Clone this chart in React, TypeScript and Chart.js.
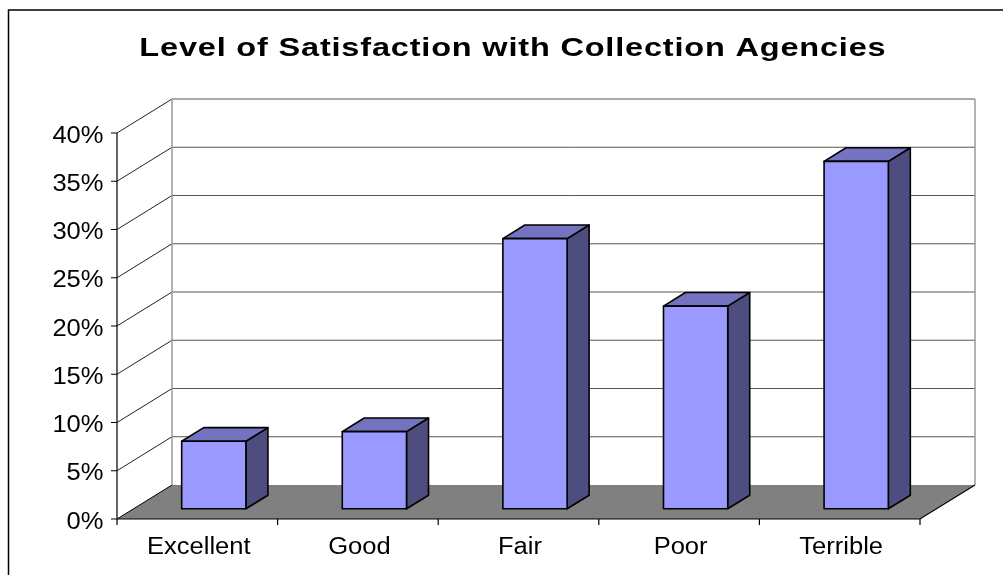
import React, { useEffect, useRef } from 'react';
import { Chart, registerables } from 'chart.js';

Chart.register(...registerables);

const titleText = 'Level of Satisfaction with Collection Agencies';
const categories = ['Excellent', 'Good', 'Fair', 'Poor', 'Terrible'];
const satisfaction = [0.07, 0.08, 0.28, 0.21, 0.36];
const yTickValues = [0, 0.05, 0.1, 0.15, 0.2, 0.25, 0.3, 0.35, 0.4];
const yTickLabels = ['0%', '5%', '10%', '15%', '20%', '25%', '30%', '35%', '40%'];

// 3D depth vector and bar depth placement
const DX = 55;
const DY = -34;
const BAR_FRONT = 0.3;
const BAR_DEPTH = 0.4;

const FONT = '"Liberation Sans", Arial, sans-serif';

function drawText(
  ctx: CanvasRenderingContext2D,
  text: string,
  x: number,
  y: number,
  align: CanvasTextAlign,
  sx: number,
  spacing: number
) {
  ctx.save();
  (ctx as any).letterSpacing = `${spacing}px`;
  ctx.textAlign = align;
  ctx.textBaseline = 'alphabetic';
  ctx.translate(x, y);
  ctx.scale(sx, 1);
  let dx = 0;
  if (align === 'center') dx = spacing / 2;
  if (align === 'right') dx = spacing;
  ctx.fillText(text, dx, 0);
  ctx.restore();
}

const threeDPlugin = {
  id: 'threeD',
  beforeDatasetsDraw(chart: any) {
    const ctx = chart.ctx as CanvasRenderingContext2D;
    const xs = chart.scales.x;
    const ys = chart.scales.y;
    const left = chart.chartArea.left;
    const right = chart.chartArea.right;
    const yTop = ys.getPixelForValue(yTickValues[yTickValues.length - 1]);
    const yBot = ys.getPixelForValue(0);
    ctx.save();

    // frame
    ctx.strokeStyle = '#000';
    ctx.lineWidth = 1.5;
    ctx.strokeRect(8.5, 10, 1010, 600);

    // back wall
    ctx.fillStyle = '#ffffff';
    ctx.fillRect(left + DX, yTop + DY, right - left, yBot - yTop);

    // floor
    ctx.beginPath();
    ctx.moveTo(left, yBot);
    ctx.lineTo(right, yBot);
    ctx.lineTo(right + DX, yBot + DY);
    ctx.lineTo(left + DX, yBot + DY);
    ctx.closePath();
    ctx.fillStyle = '#808080';
    ctx.fill();

    // back-wall gridlines and side-wall diagonals
    yTickValues.forEach((v, i) => {
      const py = ys.getPixelForValue(v);
      if (i > 0) {
        ctx.beginPath();
        ctx.moveTo(left + DX, py + DY);
        ctx.lineTo(right + DX, py + DY);
        ctx.strokeStyle = i === yTickValues.length - 1 ? '#8c8c8c' : '#555555';
        ctx.lineWidth = i === yTickValues.length - 1 ? 1.6 : 1;
        ctx.stroke();
      }
      ctx.beginPath();
      ctx.moveTo(left, py);
      ctx.lineTo(left + DX, py + DY);
      ctx.strokeStyle = i === 0 ? '#000' : '#222';
      ctx.lineWidth = 1;
      ctx.stroke();
    });

    // back wall vertical edges
    ctx.strokeStyle = '#9a9a9a';
    ctx.lineWidth = 1.5;
    ctx.beginPath();
    ctx.moveTo(left + DX, yTop + DY);
    ctx.lineTo(left + DX, yBot + DY);
    ctx.moveTo(right + DX, yTop + DY);
    ctx.lineTo(right + DX, yBot + DY);
    ctx.stroke();

    // floor edges
    ctx.strokeStyle = '#000';
    ctx.lineWidth = 1.2;
    ctx.beginPath();
    ctx.moveTo(left, yBot);
    ctx.lineTo(right, yBot);
    ctx.lineTo(right + DX, yBot + DY);
    ctx.stroke();

    // y axis line and ticks
    ctx.beginPath();
    ctx.moveTo(left, yTop);
    ctx.lineTo(left, yBot);
    yTickValues.forEach((v) => {
      const py = ys.getPixelForValue(v);
      ctx.moveTo(left - 6, py);
      ctx.lineTo(left, py);
    });
    ctx.stroke();

    // x axis ticks at category boundaries
    const step = (right - left) / categories.length;
    ctx.beginPath();
    for (let i = 0; i <= categories.length; i++) {
      const px = i === categories.length ? right : xs.getPixelForValue(i) - step / 2;
      ctx.moveTo(px, yBot);
      ctx.lineTo(px, yBot + 6);
    }
    ctx.stroke();

    // labels
    ctx.fillStyle = '#000';
    ctx.font = `23px ${FONT}`;
    yTickValues.forEach((v, i) => {
      const py = ys.getPixelForValue(v);
      drawText(ctx, yTickLabels[i], left - 13.5, py + 9.7, 'right', 1.11, 0);
    });
    categories.forEach((c, i) => {
      drawText(ctx, c, xs.getPixelForValue(i) + 1.5, yBot + 35, 'center', 1.11, 0);
    });

    // title
    ctx.font = `bold 26px ${FONT}`;
    drawText(ctx, titleText, 512.5, 56, 'center', 1.25, 0.65);
    ctx.restore();
  },
  afterDatasetsDraw(chart: any) {
    const ctx = chart.ctx as CanvasRenderingContext2D;
    const meta = chart.getDatasetMeta(0);
    const ox = BAR_FRONT * DX;
    const oy = BAR_FRONT * DY;
    const bx = BAR_DEPTH * DX;
    const by = BAR_DEPTH * DY;
    ctx.save();
    ctx.lineJoin = 'round';
    ctx.strokeStyle = '#000';
    ctx.lineWidth = 1.6;
    meta.data.forEach((el: any) => {
      const p = el.getProps(['x', 'y', 'base', 'width'], true);
      const x0 = p.x - p.width / 2 + ox;
      const x1 = p.x + p.width / 2 + ox;
      const yt = p.y + oy;
      const yb = p.base + oy;
      // side
      ctx.beginPath();
      ctx.moveTo(x1, yt);
      ctx.lineTo(x1 + bx, yt + by);
      ctx.lineTo(x1 + bx, yb + by);
      ctx.lineTo(x1, yb);
      ctx.closePath();
      ctx.fillStyle = '#4d4d80';
      ctx.fill();
      ctx.stroke();
      // top
      ctx.beginPath();
      ctx.moveTo(x0, yt);
      ctx.lineTo(x0 + bx, yt + by);
      ctx.lineTo(x1 + bx, yt + by);
      ctx.lineTo(x1, yt);
      ctx.closePath();
      ctx.fillStyle = '#7373c0';
      ctx.fill();
      ctx.stroke();
      // front
      ctx.beginPath();
      ctx.rect(x0, yt, x1 - x0, yb - yt);
      ctx.fillStyle = '#9999ff';
      ctx.fill();
      ctx.stroke();
    });
    ctx.restore();
  },
};

export default function App() {
  const ref = useRef<HTMLCanvasElement | null>(null);
  useEffect(() => {
    if (!ref.current) return;
    const chart = new Chart(ref.current, {
      type: 'bar',
      data: {
        labels: categories,
        datasets: [
          {
            data: satisfaction,
            backgroundColor: 'rgba(0,0,0,0)',
            borderWidth: 0,
            barPercentage: 0.4,
            categoryPercentage: 1,
          },
        ],
      },
      options: {
        responsive: false,
        animation: false,
        devicePixelRatio: 1,
        layout: { padding: { left: 117, right: 83, top: 133, bottom: 56 } },
        plugins: { legend: { display: false }, title: { display: false }, tooltip: { enabled: false } },
        events: [],
        scales: {
          x: { display: false, offset: true },
          y: { display: false, min: 0, max: 0.4 },
        },
      },
      plugins: [threeDPlugin],
    });
    return () => chart.destroy();
  }, []);
  return (
    <div style={{ position: 'fixed', left: 0, top: 0, width: 1003, height: 575, background: '#fff' }}>
      <canvas ref={ref} width={1003} height={575} style={{ width: 1003, height: 575, display: 'block' }} />
    </div>
  );
}
